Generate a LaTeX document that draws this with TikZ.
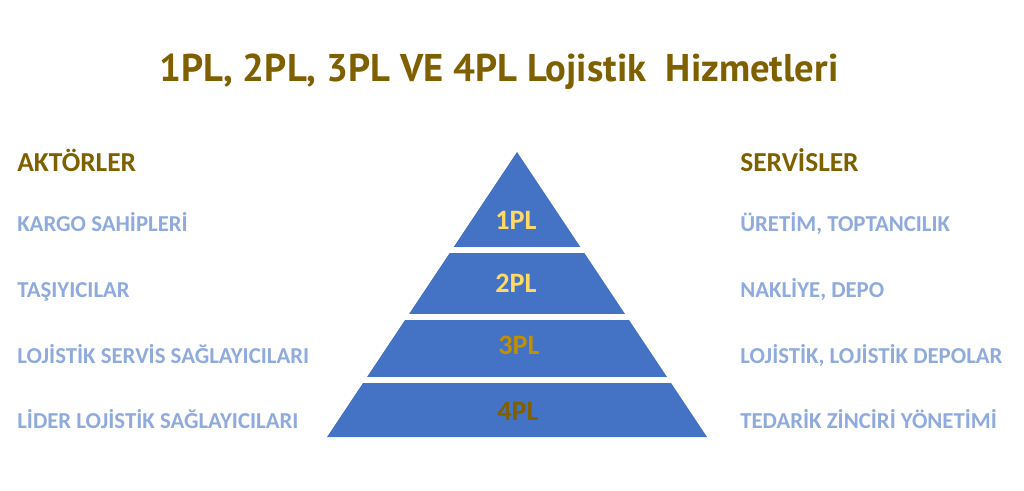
\documentclass[tikz,border=0pt]{standalone}
\usepackage{fontspec}
\setmainfont{Carlito}
\newfontfamily\titlefont{PT Sans}
\definecolor{darkgold}{HTML}{7F6000}
\definecolor{midgold}{HTML}{BF9000}
\definecolor{lightgold}{HTML}{FFD966}
\definecolor{pyrblue}{HTML}{4472C4}
\definecolor{itemblue}{HTML}{8FAADC}
\tikzset{
    heading/.style={anchor=base west, inner sep=0, font=\bfseries\fontsize{19.5}{23}\selectfont, text=darkgold},
    item/.style={anchor=base west, inner sep=0, font=\bfseries\fontsize{16.2}{19}\selectfont, text=itemblue},
    level/.style={anchor=base, inner sep=0, font=\bfseries\fontsize{20}{24}\selectfont}
}
\begin{document}
\begin{tikzpicture}[x=0.025cm, y=-0.025cm]
    \useasboundingbox (0,0) rectangle (1024,491);

    % Title
    \node[anchor=base, inner sep=0, font=\titlefont\bfseries\fontsize{27.5}{32}\selectfont, text=darkgold] (title) at (499,82) {1PL, 2PL, 3PL VE 4PL Lojistik\ \ Hizmetleri};

    % Pyramid with white gaps between the levels
    \fill[pyrblue] (517,152) -- (707,437) -- (327,437) -- cycle;
    \foreach \y in {250, 317, 380} {
        \draw[white, line width=3.6pt] (300,\y) -- (740,\y);
    }

    % Level labels
    \foreach \x/\y/\lbl/\col in {516/230/1PL/lightgold, 516/292/2PL/lightgold, 519/354/3PL/midgold, 518/420/4PL/darkgold} {
        \node[level, text=\col] (lvl\lbl) at (\x,\y) {\lbl};
    }

    % Actors (left)
    \node[heading] (aktorler) at (17,172) {AKTÖRLER};
    \foreach \y/\txt in {232/KARGO SAHİPLERİ, 297/TAŞIYICILAR, 363/LOJİSTİK SERVİS SAĞLAYICILARI, 428/LİDER LOJİSTİK SAĞLAYICILARI} {
        \node[item] (akt\y) at (17,\y) {\txt};
    }

    % Services (right)
    \node[heading] (servisler) at (740,172) {SERVİSLER};
    \foreach \y/\txt in {232/{ÜRETİM, TOPTANCILIK}, 297/{NAKLİYE, DEPO}, 363/{LOJİSTİK, LOJİSTİK DEPOLAR}, 428/TEDARİK ZİNCİRİ YÖNETİMİ} {
        \node[item] (srv\y) at (740,\y) {\txt};
    }

\end{tikzpicture}
\end{document}
